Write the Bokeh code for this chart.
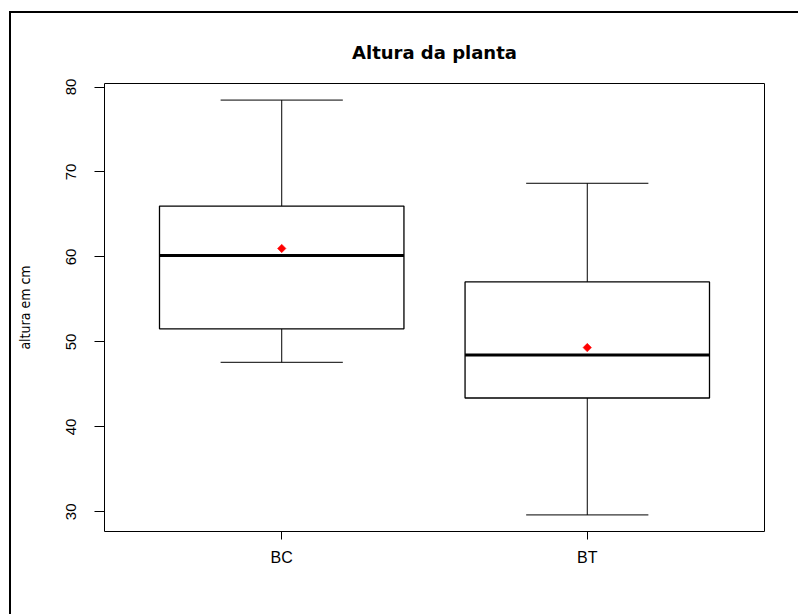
import math
from bokeh.plotting import figure
from bokeh.models import Range1d, FixedTicker, ColumnDataSource, InlineStyleSheet
from bokeh.embed import file_html
from bokeh.resources import INLINE

# ---- data ----
title_text = "Altura da planta"
y_label = "altura em cm"
groups = ["BC", "BT"]
upper_whisker = [78.46, 68.67]
q3 = [65.99, 57.06]
medians = [60.18, 48.46]
q1 = [51.54, 43.40]
lower_whisker = [47.60, 29.64]
means = [61.0, 49.33]
y_ticks = [30, 40, 50, 60, 70, 80]

xs = [i + 1 for i in range(len(groups))]
box_half = 0.4
cap_half = 0.2

# R-like axis ranges (4% extension)
ymin, ymax = min(lower_whisker), max(upper_whisker)
ypad = 0.04 * (ymax - ymin)
xpad = 0.04 * len(groups)

src = ColumnDataSource(dict(
    x=xs,
    left=[x - box_half for x in xs],
    right=[x + box_half for x in xs],
    capl=[x - cap_half for x in xs],
    capr=[x + cap_half for x in xs],
    upper=upper_whisker, q3=q3, med=medians, q1=q1, lower=lower_whisker, mean=means,
))

FONT = "Liberation Sans, Arial, Helvetica, sans-serif"

# outer device frame (only its top and left edges are visible in the reference)
frame_css = InlineStyleSheet(css="""
:host { position: relative; }
:host::after {
  content: "";
  position: absolute;
  left: 9px; top: 11px; right: 0px; bottom: 0px;
  border-left: 2px solid black;
  border-top: 2px solid black;
  pointer-events: none;
  z-index: 10;
}
""")

p = figure(width=798, height=614, output_backend="svg", toolbar_location=None,
           x_range=Range1d(0.5 - xpad, len(groups) + 0.5 + xpad),
           y_range=Range1d(ymin - ypad, ymax + ypad),
           min_border_left=104, min_border_right=34, min_border_top=83, min_border_bottom=83,
           background_fill_color="white", border_fill_color="white",
           title=title_text)
p.stylesheets = [frame_css]

p.title.align = "center"
p.title.text_font = "DejaVu Sans, Liberation Sans, sans-serif"
p.title.text_font_size = "18px"
p.title.text_font_style = "bold"
p.title.text_color = "black"
p.title.standoff = 42

p.xgrid.visible = False
p.ygrid.visible = False
p.outline_line_color = "black"
p.outline_line_width = 1
p.outline_line_alpha = 1

# whiskers
p.segment(x0="x", y0="q3", x1="x", y1="upper", source=src, line_color="black", line_width=1)
p.segment(x0="x", y0="q1", x1="x", y1="lower", source=src, line_color="black", line_width=1)
# caps
p.segment(x0="capl", y0="upper", x1="capr", y1="upper", source=src, line_color="black", line_width=1)
p.segment(x0="capl", y0="lower", x1="capr", y1="lower", source=src, line_color="black", line_width=1)
# boxes
p.quad(left="left", right="right", bottom="q1", top="q3", source=src,
       fill_color="white", line_color="black", line_width=1.3)
# medians
p.segment(x0="left", y0="med", x1="right", y1="med", source=src, line_color="black", line_width=3)
# means (filled diamond, like R's pch = 18)
p.scatter(x="x", y="mean", source=src, marker="square", angle=math.pi / 4, size=6,
          fill_color="red", line_color="red", line_width=0.5)

# axes
xa = p.xaxis[0]
xa.ticker = FixedTicker(ticks=xs)
xa.major_label_overrides = {x: g for x, g in zip(xs, groups)}
xa.axis_line_color = None
xa.major_tick_out = 8
xa.major_tick_in = 0
xa.minor_tick_line_color = None
xa.major_tick_line_color = "black"
xa.major_label_text_font = FONT
xa.major_label_text_font_size = "16px"
xa.major_label_text_color = "black"
xa.major_label_standoff = 9

ya = p.yaxis[0]
ya.ticker = FixedTicker(ticks=y_ticks)
ya.axis_line_color = None
ya.major_tick_out = 10
ya.major_tick_in = 0
ya.minor_tick_line_color = None
ya.major_tick_line_color = "black"
ya.major_label_orientation = "vertical"
ya.major_label_text_font = FONT
ya.major_label_text_font_size = "15px"
ya.major_label_text_color = "black"
ya.major_label_standoff = 18
ya.axis_label = y_label
ya.axis_label_text_font = "Liberation Sans Narrow, Arial Narrow, DejaVu Sans Condensed, sans-serif"
ya.axis_label_text_font_size = "14px"
ya.axis_label_text_font_style = "normal"
ya.axis_label_text_color = "black"
ya.axis_label_standoff = 31

open("out.html", "w").write(file_html(p, INLINE))
